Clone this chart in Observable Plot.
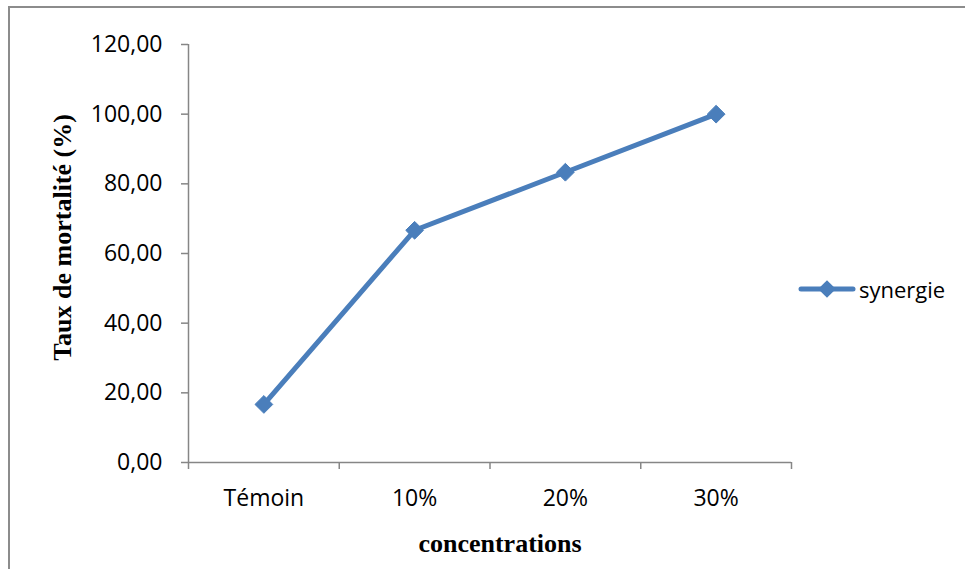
<!DOCTYPE html>
<html>
<head>
<meta charset="utf-8">
<script src="https://cdn.jsdelivr.net/npm/d3@7"></script>
<script src="https://cdn.jsdelivr.net/npm/@observablehq/plot@0.6"></script>
<style>
  html, body { margin: 0; padding: 0; background: #fff; }
  #wrap { position: relative; width: 965px; height: 569px; overflow: hidden; }
  #frame { position: absolute; left: 8px; top: 6px; width: 990px; height: 600px;
           border-left: 2px solid #8c8c8c; border-top: 2px solid #8c8c8c; box-sizing: border-box; }
  #legend { position: absolute; left: 798px; top: 274px; display: flex; align-items: center;
            font-family: "Open Sans", sans-serif; font-size: 22px; color: #000; }
  #legend svg { display: block; margin-right: 3px; }
</style>
</head>
<body>
<div id="wrap">
  <div id="frame"></div>
  <div id="chart"></div>
  <div id="legend"></div>
</div>
<script>
// Mortality rate by concentration
const categories = ["Témoin", "10%", "20%", "30%"];
const mortality = [16.67, 66.67, 83.33, 100.0];
const yTicks = [0, 20, 40, 60, 80, 100, 120];
const seriesName = "synergie";

const blue = "#4a7ebb";
const grey = "#868686";
const data = categories.map((c, i) => ({ i, c, v: mortality[i] }));
const bandEdges = d3.range(-0.5, categories.length, 1);
const fmt = d => d.toFixed(2).replace(".", ",");

const chart = Plot.plot({
  width: 965,
  height: 569,
  marginLeft: 188,
  marginRight: 174,
  marginTop: 44,
  marginBottom: 107,
  style: { background: "transparent", color: "#000" },
  x: { type: "linear", domain: [-0.5, categories.length - 0.5] },
  y: { domain: [0, 120] },
  marks: [
    // axis lines
    Plot.ruleY([0], { stroke: grey, strokeWidth: 1.5 }),
    Plot.ruleX([-0.5], { stroke: grey, strokeWidth: 1.5 }),
    // y axis ticks and labels
    Plot.axisY({ ticks: yTicks, tickSize: 7, tickPadding: 19, tickFormat: fmt,
                 stroke: grey, strokeWidth: 1.5, fontSize: 23, fontFamily: "Open Sans, sans-serif",
                 label: null }),
    // x tick marks on category boundaries
    Plot.axisX({ ticks: bandEdges, tickSize: 7, tickFormat: () => "", stroke: grey,
                 strokeWidth: 1.5, label: null }),
    // category labels at band centers
    Plot.axisX({ ticks: d3.range(categories.length), tickSize: 0, tickPadding: 27,
                 tickFormat: i => categories[i], fontSize: 23,
                 fontFamily: "Open Sans, sans-serif", label: null }),
    // axis titles
    Plot.text(["Taux de mortalité (%)"], { frameAnchor: "left", textAnchor: "middle", dx: -126, dy: -16,
                 rotate: -90, fontSize: 26, fontWeight: "bold", fontFamily: "Liberation Serif, serif" }),
    Plot.text(["concentrations"], { frameAnchor: "bottom", dx: 10, dy: 89,
                 fontSize: 26, fontWeight: "bold", fontFamily: "Liberation Serif, serif" }),
    // series
    Plot.line(data, { x: "i", y: "v", stroke: blue, strokeWidth: 5, strokeLinejoin: "round" }),
    Plot.dot(data, { x: "i", y: "v", symbol: "diamond2", r: 8, fill: blue, stroke: blue, strokeWidth: 1 })
  ]
});
document.getElementById("chart").appendChild(chart);

// legend entry
const leg = d3.select("#legend");
const ls = leg.append("svg").attr("width", 58).attr("height", 30);
ls.append("line").attr("x1", 3).attr("x2", 55).attr("y1", 15).attr("y2", 15)
  .attr("stroke", blue).attr("stroke-width", 5).attr("stroke-linecap", "round");
ls.append("path").attr("d", d3.symbol(d3.symbolDiamond2, 200)())
  .attr("transform", "translate(29,15)").attr("fill", blue);
leg.append("span").text(seriesName);
</script>
</body>
</html>
